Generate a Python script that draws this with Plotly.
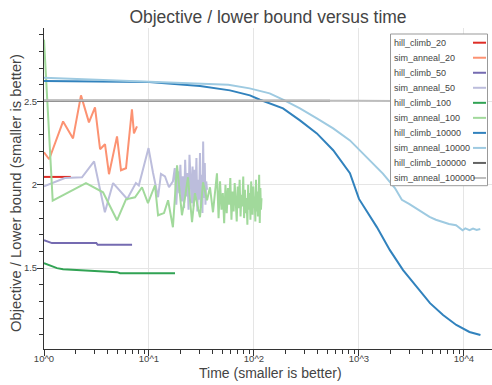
import plotly.graph_objects as go

# ---------------- data ----------------
series_names = ["hill_climb_20", "sim_anneal_20", "hill_climb_50", "sim_anneal_50",
                "hill_climb_100", "sim_anneal_100", "hill_climb_10000", "sim_anneal_10000",
                "hill_climb_100000", "sim_anneal_100000"]
series_colors = ["#de2d26", "#fc9272", "#756bb1", "#bcbddc", "#31a354", "#a1d99b",
                 "#3182bd", "#9ecae1", "#636363", "#bdbdbd"]

hc20_t = [1.0, 1.3, 1.8]
hc20_y = [2.047, 2.047, 2.047]

sa20_t = [1.0, 1.12, 1.52, 1.89, 2.25, 2.68, 3.06, 3.42, 3.81, 4.16, 4.96, 5.41, 6.04, 6.88, 7.19, 7.68]
sa20_y = [2.195, 2.153, 2.380, 2.278, 2.536, 2.374, 2.464, 2.213, 2.243, 2.063, 2.290, 2.087, 2.099, 2.452, 2.308, 2.350]

hc50_t = [1.0, 1.19, 2.0, 3.15, 3.25, 5.0, 6.9]
hc50_y = [1.668, 1.650, 1.650, 1.650, 1.640, 1.640, 1.640]

sa50_t = [1.0, 1.58, 2.3, 3.0, 3.8, 4.55, 6.2, 7.5, 8.0, 9.9, 10.9, 12.2, 13.0, 14.2, 15.5,
          16.9, 17.6, 18.2, 18.9, 19.4, 19.9, 20.5, 21.0, 21.6, 22.1, 22.7, 23.2, 23.8, 24.3,
          24.9, 25.5, 26.0, 26.6, 27.2, 27.7, 28.3, 28.9, 29.4, 30.0, 30.6, 31.1, 31.7, 32.3,
          32.8, 33.4, 34.0, 34.5, 35.1, 35.7]
sa50_y = [1.99, 2.04, 2.045, 2.14, 1.835, 2.01, 1.915, 2.01, 1.995, 2.22, 2.075, 1.925, 2.065, 2.05, 1.985,
          2.02, 2.10, 1.88, 2.08, 1.95, 2.12, 1.90, 2.05, 1.86, 2.15, 1.93, 2.07, 1.85, 2.18,
          1.98, 1.89, 2.11, 1.87, 2.09, 1.94, 2.16, 1.84, 2.03, 1.91, 2.19, 1.86, 2.06, 1.83,
          2.26, 1.92, 2.13, 1.88, 2.02, 1.97]

hc100_t = [1.0, 1.14, 1.33, 1.52, 2.57, 3.42, 4.96, 5.3, 10.0, 17.7]
hc100_y = [1.530, 1.518, 1.500, 1.494, 1.488, 1.482, 1.476, 1.470, 1.470, 1.470]

sa100_t = [1.0, 1.21, 2.51, 3.65, 4.96, 6.04, 7.36, 8.58, 9.78, 11.4, 12.2, 13.9, 15.2, 16.9,
           18.5, 20.6, 22.0, 23.5, 25.7, 27.4, 30.6, 32.7, 35.7, 38.1, 40.7, 44.4,
           46.0, 47.5, 49.0, 50.5, 52.0, 53.5, 55.0, 56.5, 58.0, 59.5, 61.0, 62.5, 64.0, 65.5,
           67.0, 68.5, 70.0, 71.5, 73.0, 74.5, 76.0, 77.5, 79.0, 80.5, 82.0, 83.5, 85.0, 86.5,
           88.0, 89.5, 91.0, 92.5, 94.0, 95.5, 97.0, 98.5, 100.0, 101.5, 103.0, 104.5, 106.0,
           107.5, 109.0, 110.5, 112.0, 113.5, 115.0, 116.5, 118.0]
sa100_y = [2.87, 1.905, 2.01, 1.955, 1.787, 1.913, 1.925, 1.985, 1.89, 1.997, 1.817, 1.83, 1.907, 1.745,
           2.117, 1.817, 1.92, 2.045, 1.775, 1.95, 1.805, 2.015, 1.907, 1.985, 1.835, 2.069,
           1.80, 2.02, 1.85, 1.95, 1.77, 2.00, 1.83, 1.98, 1.88, 2.04, 1.79, 1.96, 1.84, 2.01,
           1.90, 1.78, 1.99, 1.86, 2.03, 1.81, 1.94, 1.87, 2.05, 1.80, 1.97, 1.83, 1.92, 1.76,
           2.00, 1.85, 1.95, 1.79, 2.02, 1.88, 1.82, 1.99, 1.86, 1.93, 1.78, 2.03, 1.84,
           1.96, 1.81, 1.90, 2.06, 1.77, 1.98, 1.85, 1.92]

hc10000_t = [1, 10, 30.6, 59, 91.5, 114, 189, 274, 397, 568, 820, 1000, 1480, 1970, 2630,
             3580, 4750, 6320, 8450, 11280, 14350]
hc10000_y = [2.622, 2.616, 2.592, 2.566, 2.536, 2.51, 2.458, 2.386, 2.308, 2.207, 2.069, 1.915,
             1.746, 1.608, 1.488, 1.386, 1.29, 1.219, 1.159, 1.117, 1.099]

sa10000_t = [1, 10, 30, 57, 91, 141, 189, 274, 397, 568, 820, 1190, 1690, 2200, 2560, 3000,
             3500, 4100, 4700, 5400, 6300, 7200, 8400, 9000, 9700, 10300, 11300, 12200, 13200, 14300]
sa10000_y = [2.642, 2.62, 2.605, 2.60, 2.578, 2.548, 2.51, 2.458, 2.398, 2.338, 2.266, 2.165,
             2.067, 1.98, 1.91, 1.885, 1.857, 1.83, 1.807, 1.79, 1.777, 1.765, 1.757, 1.745,
             1.727, 1.738, 1.728, 1.737, 1.729, 1.735]

hc100000_t = [1, 100, 530]
hc100000_y = [2.503, 2.503, 2.503]

sa100000_t = [1, 300, 1000, 5000, 15000]
sa100000_y = [2.507, 2.507, 2.503, 2.500, 2.497]

all_t = [hc20_t, sa20_t, hc50_t, sa50_t, hc100_t, sa100_t, hc10000_t, sa10000_t, hc100000_t, sa100000_t]
all_y = [hc20_y, sa20_y, hc50_y, sa50_y, hc100_y, sa100_y, hc10000_y, sa10000_y, hc100000_y, sa100000_y]

x_tickvals = [1, 10, 100, 1000, 10000]
x_ticktext = ["10^0", "10^1", "10^2", "10^3", "10^4"]
y_tickvals = [1.5, 2, 2.5]
y_ticktext = ["1.5", "2", "2.5"]

title_text = "Objective / lower bound versus time"
x_title = "Time (smaller is better)"
y_title = "Objective / Lower bound (smaller is better)"

# ---------------- figure ----------------
W, H = 492, 385
ML, MR, MT, MB = 44, 0, 28, 36
PW, PH = W - ML - MR, H - MT - MB
FONT = "Liberation Sans, Arial, Helvetica, sans-serif"
TXT = "#444444"

fig = go.Figure()
for name, color, t, y in zip(series_names, series_colors, all_t, all_y):
    fig.add_trace(go.Scatter(x=t, y=y, mode="lines", name=name,
                             line=dict(color=color, width=2), showlegend=False))

x_minor = [m * 10 ** k for k in range(0, 5) for m in range(2, 10)]
y_minor = [round(1.1 + 0.1 * i, 1) for i in range(19)]

fig.update_layout(
    width=W, height=H,
    margin=dict(l=ML, r=MR, t=MT, b=MB),
    paper_bgcolor="white", plot_bgcolor="white",
    font=dict(family=FONT, color=TXT),
    title=dict(text=title_text, x=268 / W, xanchor="center",
               y=1 - 17 / H, yanchor="middle", yref="container",
               font=dict(size=17.5, color=TXT, family=FONT)),
    xaxis=dict(type="log", range=[0, 4.267], tickvals=x_tickvals, ticktext=x_ticktext,
               ticks="outside", ticklen=6, tickcolor="#333", tickwidth=1,
               showline=True, linecolor="#333", linewidth=1,
               showgrid=True, gridcolor="#e5e5e5", gridwidth=1, zeroline=False,
               tickfont=dict(size=9.5, color=TXT), ticklabelstandoff=-5,
               minor=dict(tickvals=x_minor, ticks="outside", ticklen=4, tickcolor="#333", showgrid=False)),
    yaxis=dict(range=[1.015, 2.94], tickvals=y_tickvals, ticktext=y_ticktext,
               ticks="outside", ticklen=6, tickcolor="#333", tickwidth=1,
               showline=True, linecolor="#333", linewidth=1,
               showgrid=True, gridcolor="#e5e5e5", gridwidth=1, zeroline=False,
               tickfont=dict(size=9.5, color=TXT), ticklabelstandoff=-2,
               minor=dict(tickvals=y_minor, ticks="outside", ticklen=4, tickcolor="#333", showgrid=False)),
    showlegend=False,
)

def px(xp):
    return (xp - ML) / PW

def py(yp):
    return (H - MB - yp) / PH

# axis titles
fig.add_annotation(xref="paper", yref="paper", x=px(270), y=py(373), text=x_title,
                   showarrow=False, xanchor="center", yanchor="middle",
                   font=dict(size=14, color=TXT, family=FONT))
fig.add_annotation(xref="paper", yref="paper", x=px(16), y=py(193), text=y_title,
                   showarrow=False, xanchor="center", yanchor="middle", textangle=-90,
                   font=dict(size=14.8, color=TXT, family=FONT))

# ---------------- custom legend (text left, line sample right) ----------------
box_l, box_r, box_t, box_b = 390.5, 487.5, 34, 185.7
fig.add_shape(type="rect", xref="paper", yref="paper",
              x0=px(box_l), x1=px(box_r), y0=py(box_b), y1=py(box_t),
              fillcolor="white", line=dict(color="#999999", width=1), layer="above")
row0, step = 42.7, 15.03
for i, (name, color) in enumerate(zip(series_names, series_colors)):
    yy = row0 + step * i
    fig.add_annotation(xref="paper", yref="paper", x=px(392), y=py(yy), text=name,
                       showarrow=False, xanchor="left", yanchor="middle",
                       font=dict(size=9, color=TXT, family=FONT))
    fig.add_shape(type="line", xref="paper", yref="paper",
                  x0=px(473), x1=px(486), y0=py(yy), y1=py(yy),
                  line=dict(color=color, width=2), layer="above")

fig.write_html("out.html")
